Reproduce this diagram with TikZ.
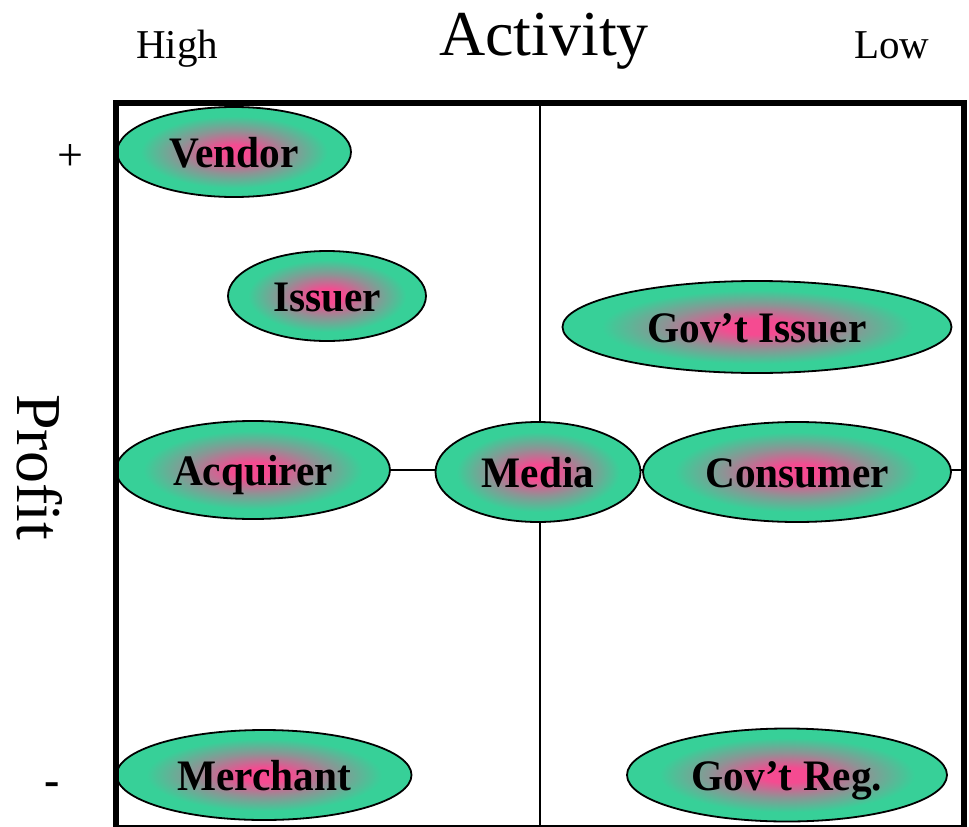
\documentclass[tikz,border=0pt]{standalone}
\usepackage{fontspec}
\setmainfont[Ligatures={TeX,NoCommon}]{Liberation Serif}
\newfontfamily\lblfont[Ligatures={TeX,NoCommon},FakeStretch=0.95]{Liberation Serif}
\usetikzlibrary{shapes.geometric}
\definecolor{pinkc}{RGB}{245,75,145}
\definecolor{greenc}{RGB}{55,208,152}
\pgfdeclareradialshading{ellshade}{\pgfpoint{0bp}{0bp}}{color(0bp)=(pinkc); color(4bp)=(pinkc); color(12bp)=(pinkc!45!greenc); color(20bp)=(greenc); color(50bp)=(greenc)}
\tikzset{
  ell/.style={ellipse, draw=black, line width=1.8pt, shading=ellshade, inner sep=0pt,
    font=\lblfont\fontsize{43.5}{48}\selectfont\bfseries, text=black,
    text height=30pt, text depth=0pt},
  axislbl/.style={font=\fontsize{41}{45}\selectfont, anchor=base, inner sep=0pt},
  grid line/.style={line width=1.5pt, black},
  frame line/.style={line width=6pt, black}
}
\begin{document}
\begin{tikzpicture}[x=1pt, y=-1pt]
\useasboundingbox (0,0) rectangle (969,827);
% axis labels
\node[font=\fontsize{64}{70}\selectfont, anchor=base, inner sep=0pt] (activity) at (544,55) {Activity};
\node[axislbl] (high) at (177,58) {High};
\node[axislbl] (low) at (892,58) {Low};
\node[font=\fontsize{64}{70}\selectfont, rotate=-90, inner sep=0pt] (profit) at (40,467) {Profit};
\node[font=\fontsize{46}{50}\selectfont, inner sep=0pt] (plus) at (70,158) {+};
\node[font=\fontsize{46}{50}\selectfont\bfseries, inner sep=0pt] (minus) at (52,789) {-};
% quadrant lines
\coordinate (vtop) at (540,103);
\coordinate (vbot) at (540,828);
\coordinate (hleft) at (116,470);
\coordinate (hright) at (964,470);
\draw[grid line] (vtop) -- (vbot);
\draw[grid line] (hleft) -- (hright);
% ellipses
\node[ell, minimum width=234pt, minimum height=90pt] (vendor) at (234,152) {Vendor};
\node[ell, minimum width=198pt, minimum height=90pt] (issuer) at (327,296) {Issuer};
\node[ell, minimum width=389pt, minimum height=92pt] (govissuer) at (757,327) {Gov’t Issuer};
\node[ell, minimum width=274pt, minimum height=98pt] (acquirer) at (253,470) {Acquirer};
\node[ell, minimum width=205pt, minimum height=100pt] (media) at (538,472) {Media};
\node[ell, minimum width=308pt, minimum height=100pt] (consumer) at (797,472) {Consumer};
\node[ell, minimum width=295pt, minimum height=90pt] (merchant) at (264,775) {Merchant};
\node[ell, minimum width=320pt, minimum height=93pt] (govreg) at (787,775) {Gov’t Reg.};
% frame
\coordinate (ftl) at (116,103);
\coordinate (fbr) at (964,828);
\draw[frame line] (ftl) rectangle (fbr);
\end{tikzpicture}
\end{document}
